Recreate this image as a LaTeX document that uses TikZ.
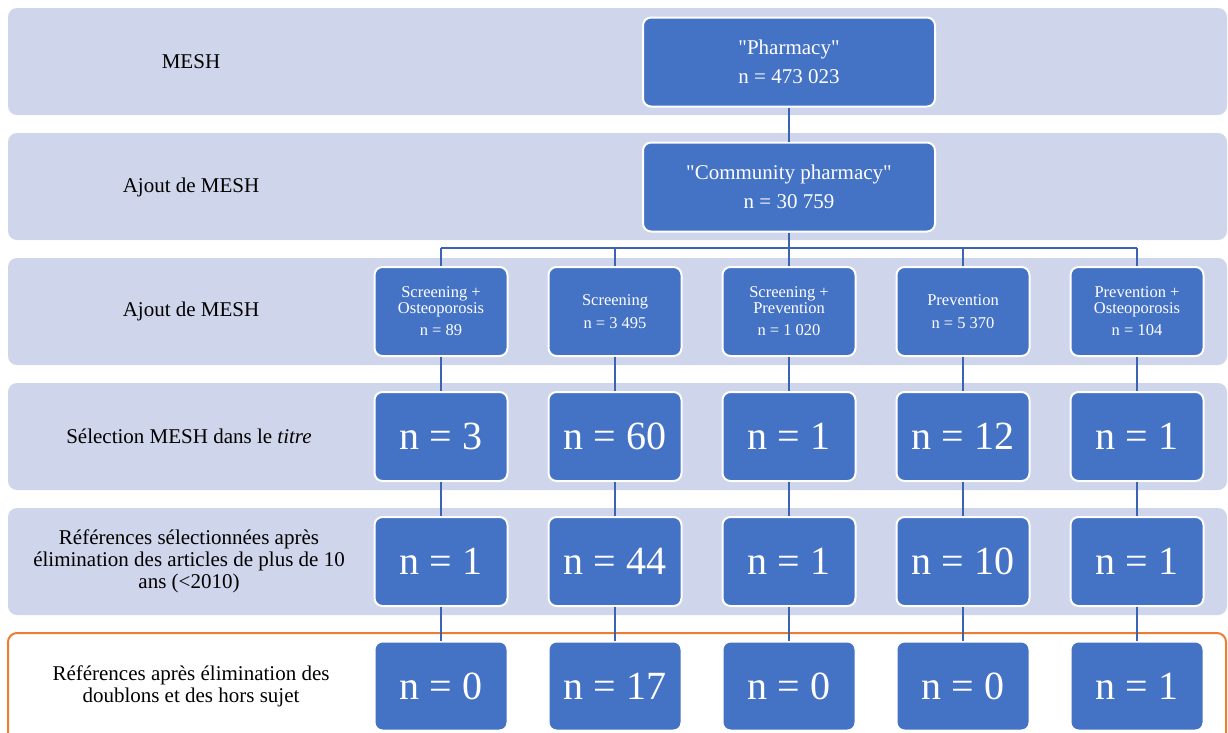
\documentclass[tikz,border=0pt]{standalone}
\usepackage{fontspec}
\setmainfont{Liberation Serif}[Ligatures=TeXOff]

\definecolor{bandfill}{RGB}{207,213,234}
\definecolor{boxblue}{RGB}{68,114,196}
\definecolor{linkblue}{RGB}{60,99,178}
\definecolor{orangeline}{RGB}{237,125,49}

\tikzset{every picture/.style={line width=0.75pt}}
\tikzset{
  band/.style={fill=bandfill, draw=none, rounded corners=9pt},
  bluebox/.style={fill=boxblue, draw=white, line width=2pt, rounded corners=8pt,
    text=white, align=center, inner sep=0pt, minimum width=133pt, minimum height=89pt},
  bigbox/.style={bluebox, font=\fontsize{40}{44}\selectfont},
  smallbox/.style={bluebox, font=\fontsize{16.5}{15.5}\selectfont},
  topbox/.style={bluebox, minimum width=292pt, font=\fontsize{21}{24}\selectfont},
  rowlabel/.style={align=center, font=\fontsize{21}{22}\selectfont},
  link/.style={draw=linkblue, line width=2.5pt},
}

\begin{document}
\begin{tikzpicture}[x=1pt,y=1pt,yscale=-1,xscale=1]
\useasboundingbox (0,0) rectangle (1228,732);

%Shape: Rectangle
\draw[band] (8,8) rectangle (1227,115);
%Shape: Rectangle
\draw[band] (8,133) rectangle (1227,240);
%Shape: Rectangle
\draw[band] (8,258) rectangle (1227,365);
%Shape: Rectangle
\draw[band] (8,383) rectangle (1227,490);
%Shape: Rectangle
\draw[band] (8,508) rectangle (1227,615);
%Shape: Rectangle
\draw[draw=orangeline, line width=2pt, rounded corners=9pt, fill=white] (8,633) rectangle (1226,780);

% Text Node
\node[rowlabel] (lab1) at (191,62) {MESH};
% Text Node
\node[rowlabel] (lab2) at (191,187) {Ajout de MESH};
% Text Node
\node[rowlabel] (lab3) at (191,311) {Ajout de MESH};
% Text Node
\node[rowlabel] (lab4) at (189,436) {Sélection MESH dans le \textit{titre}};
% Text Node
\node[rowlabel] (lab5) at (189,561) {Références sélectionnées après\\élimination des articles de plus de 10\\ans (<2010)};
% Text Node
\node[rowlabel] (lab6) at (191,686) {Références après élimination des\\doublons et des hors sujet};

% Top boxes
\node[topbox] (pharm) at (789,62) {"Pharmacy"\\[5pt]n = 473 023};
\node[topbox] (commu) at (789,187) {"Community pharmacy"\\[5pt]n = 30 759};

% MESH boxes
\node[smallbox] (s1) at (441,311.5) {Screening +\\Osteoporosis\\[7pt]n = 89};
\node[smallbox] (s2) at (615,311.5) {Screening\\[7pt]n = 3 495};
\node[smallbox] (s3) at (789,311.5) {Screening +\\Prevention\\[7pt]n = 1 020};
\node[smallbox] (s4) at (963,311.5) {Prevention\\[7pt]n = 5 370};
\node[smallbox] (s5) at (1137,311.5) {Prevention +\\Osteoporosis\\[7pt]n = 104};

% titre
\node[bigbox] (t1) at (441,436.5) {n = 3};
\node[bigbox] (t2) at (615,436.5) {n = 60};
\node[bigbox] (t3) at (789,436.5) {n = 1};
\node[bigbox] (t4) at (963,436.5) {n = 12};
\node[bigbox] (t5) at (1137,436.5) {n = 1};

% < 2010
\node[bigbox] (d1) at (441,561.5) {n = 1};
\node[bigbox] (d2) at (615,561.5) {n = 44};
\node[bigbox] (d3) at (789,561.5) {n = 1};
\node[bigbox] (d4) at (963,561.5) {n = 10};
\node[bigbox] (d5) at (1137,561.5) {n = 1};

% final
\node[bigbox] (f1) at (441,686) {n = 0};
\node[bigbox] (f2) at (615,686) {n = 17};
\node[bigbox] (f3) at (789,686) {n = 0};
\node[bigbox] (f4) at (963,686) {n = 0};
\node[bigbox] (f5) at (1137,686) {n = 1};

%Straight Lines
\coordinate (bus) at (789,248);
\draw[link] (pharm) -- (commu);
\draw[link] (commu) -- (bus);
\draw[link] (s1.north |- bus) -- (s5.north |- bus);
\foreach \i in {1,...,5} {
  \draw[link] (s\i.north |- bus) -- (s\i.north);
  \draw[link] (s\i) -- (t\i);
  \draw[link] (t\i) -- (d\i);
  \draw[link] (d\i) -- (f\i);
}

\end{tikzpicture}
\end{document}
